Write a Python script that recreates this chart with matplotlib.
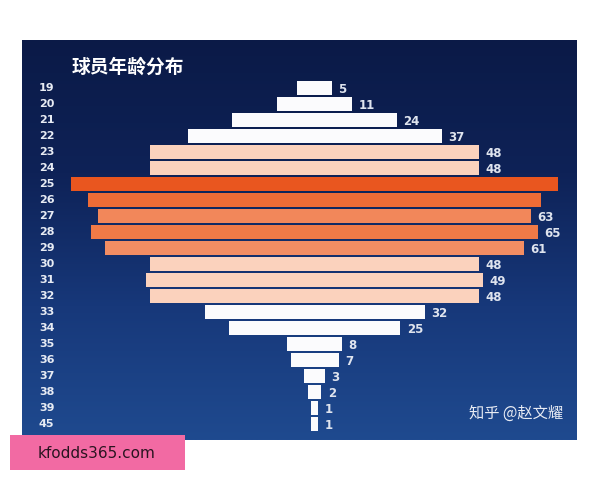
import numpy as np
import matplotlib
matplotlib.use('Agg')
import matplotlib.pyplot as plt
from matplotlib.colors import LinearSegmentedColormap
from matplotlib.patches import Rectangle

plt.rcParams['font.family'] = ['Noto Sans CJK SC', 'DejaVu Sans']

ages = ['19', '20', '21', '22', '23', '24', '25', '26', '27', '28', '29',
        '30', '31', '32', '33', '34', '35', '36', '37', '38', '39', '45']
counts = [5, 11, 24, 37, 48, 48, 71, 66, 63, 65, 61,
          48, 49, 48, 32, 25, 8, 7, 3, 2, 1, 1]
shown = [1, 1, 1, 1, 1, 1, 0, 0, 1, 1, 1,
         1, 1, 1, 1, 1, 1, 1, 1, 1, 1, 1]

def bar_colour(v):
    if v < 40: return '#fbfbfd'
    if v < 55: return '#fbd2bd'
    if v >= 70: return '#e9561f'
    if v >= 66: return '#ef6c36'
    if v >= 65: return '#f07a47'
    if v >= 63: return '#f2875a'
    return '#f28d63'

fig = plt.figure(figsize=(6, 4.8), dpi=100)
fig.patch.set_facecolor('white')
ax = fig.add_axes([22/600, 40/480, 555/600, 400/480])

# background gradient of the panel
xl, xr = -42.6, 38.2
yt, yb = -3, 22
bg = LinearSegmentedColormap.from_list('bg', ['#0b1a47', '#0e2257', '#17387a', '#1f4a8f'])
grad = np.linspace(0, 1, 256).reshape(-1, 1)
ax.imshow(grad, cmap=bg, aspect='auto', extent=(xl, xr, yb, yt), zorder=0)

y = np.arange(len(ages))
c = np.array(counts, dtype=float)
ax.barh(y, c, left=-c/2, height=0.84, color=[bar_colour(v) for v in counts],
        edgecolor='none', zorder=2)

for i, (a, v, s) in enumerate(zip(ages, counts, shown)):
    ax.text(-39.0, i, a, ha='center', va='center', color='#e8ecf4',
            fontsize=8, fontweight='bold', family='DejaVu Sans', zorder=3)
    if s:
        ax.text(v/2 + 0.9, i + 0.1, str(v), ha='left', va='center', color='#dfe4ee',
                fontsize=8.5, fontweight='bold', family='DejaVu Sans', zorder=3)

ax.text(-35.4, -1.3, '球员年龄分布', ha='left', va='center', color='white',
        fontsize=13.5, fontweight='bold', zorder=3)
ax.text(36.2, 20.35, '知乎 @赵文耀', ha='right', va='center', color='#e8ecf4',
        fontsize=11, zorder=3)

ax.set_xlim(xl, xr)
ax.set_ylim(yb, yt)
ax.axis('off')

# pink label box at the bottom left
fig.patches.append(Rectangle((10/600, 1 - 470/480), 175/600, 35/480,
                             transform=fig.transFigure, facecolor='#f26aa3',
                             edgecolor='none', zorder=5))
fig.text(38/600, 1 - 453/480, 'kfodds365.com', ha='left', va='center', color='#2a1420',
         fontsize=11, family='DejaVu Sans', zorder=6)

fig.savefig('out.png', dpi=100)
